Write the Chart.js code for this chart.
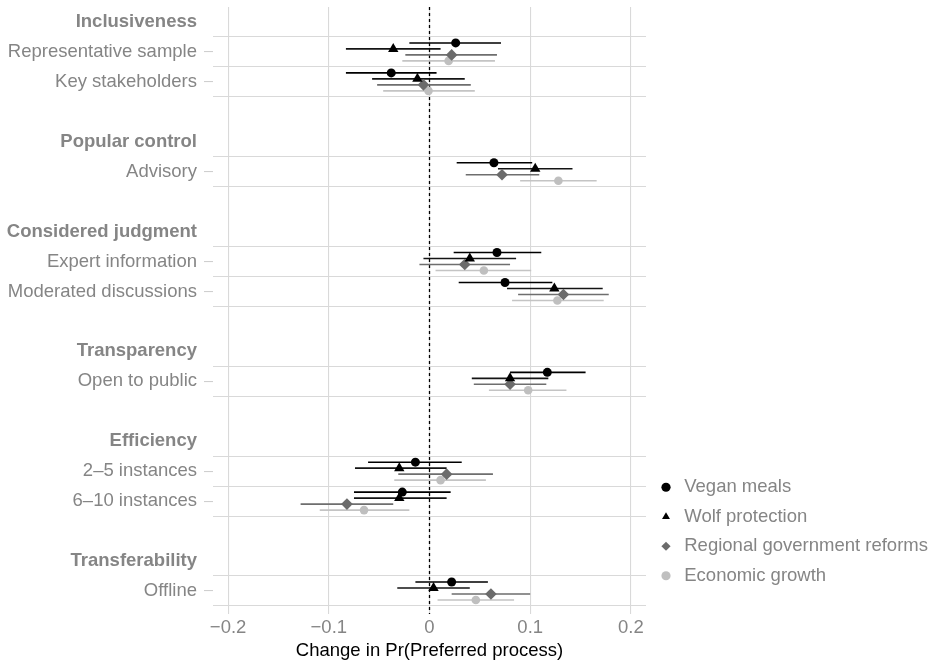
<!DOCTYPE html>
<html>
<head>
<meta charset="utf-8">
<script src="https://cdn.jsdelivr.net/npm/chart.js@4.4.1/dist/chart.umd.min.js"></script>
<style>
  html, body { margin: 0; padding: 0; background: #fff; }
</style>
</head>
<body>
<canvas id="graficoProceso" width="936" height="666"></canvas>
<script>
// grupos y atributos del eje y
const groups = ['Inclusiveness', 'Popular control', 'Considered judgment', 'Transparency', 'Efficiency', 'Transferability'];
const categories = ['Representative sample', 'Key stakeholders', 'Advisory', 'Expert information',
    'Moderated discussions', 'Open to public', '2–5 instances', '6–10 instances', 'Offline'];
const categoryGroup = [0, 0, 1, 2, 2, 3, 4, 4, 5];

const seriesNames = ['Vegan meals', 'Wolf protection', 'Regional government reforms', 'Economic growth'];

const veganEst = [0.026, -0.038, 0.064, 0.067, 0.075, 0.117, -0.014, -0.027, 0.022];
const veganLow = [-0.020, -0.083, 0.027, 0.024, 0.029, 0.080, -0.061, -0.075, -0.014];
const veganHigh = [0.071, 0.007, 0.102, 0.111, 0.122, 0.155, 0.032, 0.021, 0.058];

const wolfEst = [-0.036, -0.012, 0.105, 0.040, 0.124, 0.080, -0.030, -0.030, 0.004];
const wolfLow = [-0.083, -0.057, 0.068, -0.006, 0.077, 0.042, -0.074, -0.075, -0.032];
const wolfHigh = [0.011, 0.035, 0.142, 0.086, 0.172, 0.118, 0.017, 0.017, 0.040];

const regionalEst = [0.022, -0.006, 0.072, 0.035, 0.133, 0.080, 0.017, -0.082, 0.061];
const regionalLow = [-0.024, -0.052, 0.036, -0.010, 0.088, 0.044, -0.031, -0.128, 0.022];
const regionalHigh = [0.067, 0.041, 0.109, 0.080, 0.178, 0.116, 0.063, -0.036, 0.100];

const growthEst = [0.019, -0.001, 0.128, 0.054, 0.127, 0.098, 0.011, -0.065, 0.046];
const growthLow = [-0.027, -0.046, 0.090, 0.006, 0.082, 0.059, -0.035, -0.109, 0.008];
const growthHigh = [0.065, 0.045, 0.166, 0.101, 0.173, 0.136, 0.056, -0.020, 0.084];

const xTicks = [-0.2, -0.1, 0, 0.1, 0.2];

(function () {
    var estimates = [veganEst, wolfEst, regionalEst, growthEst];
    var lows = [veganLow, wolfLow, regionalLow, growthLow];
    var highs = [veganHigh, wolfHigh, regionalHigh, growthHigh];

    var pointStyles = ['circle', 'triangle', 'rectRot', 'circle'];
    var pointSizes = [4.5, 6, 5.8, 4.3];
    var pointColors = ['#000000', '#000000', '#6b6b6b', '#bfbfbf'];
    var barColors = ['#000000', '#141414', '#6e6e6e', '#c4c4c4'];
    var dodge = [-0.3, -0.1, 0.1, 0.3];
    var textGrey = '#858585';
    var font = 'Liberation Sans, Arial, Helvetica, sans-serif';

    // filas: cabecera de grupo, atributos, fila vacia
    var groupRows = [];
    var catRows = [];
    var r = 0;
    for (var g = 0; g < groups.length; g++) {
        groupRows.push(r);
        r++;
        for (var c = 0; c < categories.length; c++) {
            if (categoryGroup[c] === g) {
                catRows[c] = r;
                r++;
            }
        }
        r++;
    }
    var yMin = -0.5;
    var yMax = catRows[catRows.length - 1] + 0.77;

    var labels = {};
    var isGroup = {};
    var isCat = {};
    groupRows.forEach(function (v, i) { labels[v] = groups[i]; isGroup[v] = true; });
    catRows.forEach(function (v, i) {
        labels[v] = categories[i];
        isCat[v] = true;
        if (labels[v - 0.5] === undefined) labels[v - 0.5] = '';
        if (labels[v + 0.5] === undefined) labels[v + 0.5] = '';
    });
    var yTicks = Object.keys(labels).map(Number).sort(function (a, b) { return a - b; });

    var datasets = [];
    for (var s = 0; s < seriesNames.length; s++) {
        var pts = [];
        for (var i = 0; i < categories.length; i++) {
            pts.push({ x: estimates[s][i], y: catRows[i] + dodge[s] });
        }
        datasets.push({
            label: seriesNames[s],
            data: pts,
            pointStyle: pointStyles[s],
            pointRadius: pointSizes[s],
            backgroundColor: pointColors[s],
            borderColor: pointColors[s],
            borderWidth: 0
        });
    }
    for (var s2 = 0; s2 < seriesNames.length; s2++) {
        var seg = [];
        for (var j = 0; j < categories.length; j++) {
            var yv = catRows[j] + dodge[s2];
            seg.push({ x: lows[s2][j], y: yv }, { x: highs[s2][j], y: yv }, { x: null, y: null });
        }
        datasets.push({
            label: seriesNames[s2] + ' IC',
            data: seg,
            showLine: true,
            spanGaps: false,
            pointRadius: 0,
            borderColor: barColors[s2],
            borderWidth: 1.6
        });
    }
    // linea de referencia en cero
    datasets.push({
        label: 'cero',
        data: [{ x: 0, y: yMin }, { x: 0, y: yMax }],
        showLine: true,
        pointRadius: 0,
        borderColor: '#000000',
        borderWidth: 1.3,
        borderDash: [3, 3]
    });

    var ctx = document.getElementById('graficoProceso').getContext('2d');
    var grafico = new Chart(ctx, {
        type: 'scatter',
        data: { datasets: datasets },
        options: {
            responsive: false,
            animation: false,
            layout: { padding: { top: 7, left: 0, right: 0, bottom: 0 } },
            plugins: {
                tooltip: { enabled: false },
                legend: {
                    position: 'right',
                    align: 'start',
                    maxWidth: 290,
                    title: { display: true, text: '', font: { size: 10 }, padding: { top: 448, bottom: 0 } },
                    labels: {
                        filter: function (item) { return item.datasetIndex < seriesNames.length; },
                        usePointStyle: true,
                        boxWidth: 18,
                        boxHeight: 6.5,
                        padding: 11,
                        color: textGrey,
                        font: { family: font, size: 18.5 }
                    }
                }
            },
            scales: {
                x: {
                    type: 'linear',
                    min: -0.215,
                    max: 0.215,
                    afterBuildTicks: function (scale) {
                        scale.ticks = xTicks.map(function (v) { return { value: v }; });
                    },
                    afterFit: function (scale) { scale.height = 52; },
                    border: { display: false },
                    grid: { color: '#d9d9d9', lineWidth: 1.1, drawTicks: false },
                    ticks: {
                        padding: 3,
                        color: textGrey,
                        font: { family: font, size: 18.5 },
                        callback: function (v) {
                            var t = String(Math.round(v * 10) / 10);
                            return t.replace('-', '\u2212');
                        }
                    },
                    title: {
                        display: true,
                        text: 'Change in Pr(Preferred process)',
                        color: '#000000',
                        font: { family: font, size: 18.5 },
                        padding: { top: 4, bottom: 4 }
                    }
                },
                y: {
                    type: 'linear',
                    reverse: true,
                    min: yMin,
                    max: yMax,
                    afterBuildTicks: function (scale) {
                        scale.ticks = yTicks.map(function (v) { return { value: v }; });
                    },
                    afterFit: function (scale) {
                        scale.width = 213;
                        scale.paddingTop = 0;
                        scale.paddingBottom = 0;
                    },
                    border: { display: false },
                    grid: {
                        lineWidth: 1.1,
                        tickLength: 9,
                        tickWidth: 1.1,
                        color: function (c) {
                            var v = c.tick ? c.tick.value : null;
                            return labels[v] === '' ? '#d9d9d9' : 'rgba(0,0,0,0)';
                        },
                        tickColor: function (c) {
                            var v = c.tick ? c.tick.value : null;
                            return isCat[v] ? '#cfcfcf' : 'rgba(0,0,0,0)';
                        }
                    },
                    ticks: {
                        autoSkip: false,
                        padding: 7,
                        color: textGrey,
                        font: function (c) {
                            var v = c.tick ? c.tick.value : null;
                            return { family: font, size: 18.5, weight: isGroup[v] ? 'bold' : 'normal' };
                        },
                        callback: function (v) {
                            return labels[v];
                        }
                    }
                }
            }
        }
    });
})();
</script>
</body>
</html>
